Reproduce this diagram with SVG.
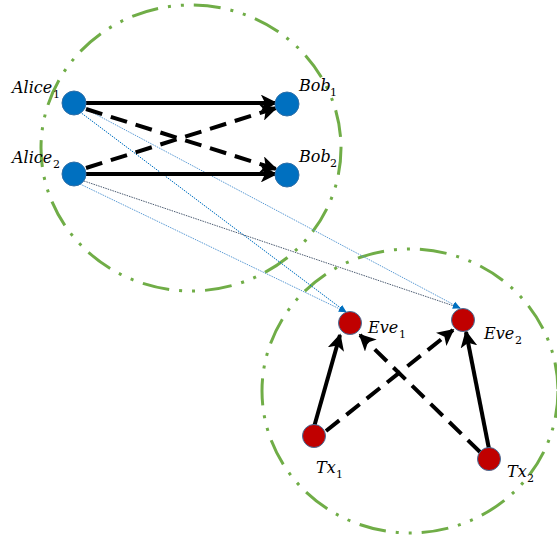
<svg xmlns="http://www.w3.org/2000/svg" width="557" height="541" viewBox="0 0 557 541">
<style>
.zone{fill:none;stroke:#70AD47;stroke-width:3;stroke-dasharray:27 10 3 10 3 10}
.alice{fill:#0070C0;stroke:#2F6FA8;stroke-width:1}
.eve{fill:#C00000;stroke:#41719C;stroke-width:1}
.lbl{font-family:"DejaVu Serif","Liberation Serif",serif;font-style:italic;font-size:16px;fill:#000}
.sub{font-family:"DejaVu Serif","Liberation Serif",serif;font-size:11px;fill:#000}
.main{stroke:#000;stroke-width:4;fill:none}
.dash{stroke-dasharray:17 9}
.leak{stroke:#0070C0;stroke-width:1;stroke-dasharray:1.5 1;fill:none}
.leak2{stroke:#5B9BD5;stroke-width:1;stroke-dasharray:1.5 1;fill:none}
</style>
<defs>
<marker id="ah" viewBox="0 0 10 10" refX="9" refY="5" markerWidth="4.2" markerHeight="4.2" orient="auto" markerUnits="strokeWidth">
<path d="M0,0 L10,5 L0,10 L2.5,5 Z" fill="#000"/>
</marker>
<marker id="bh" viewBox="0 0 10 10" refX="9" refY="5" markerWidth="8" markerHeight="8" orient="auto" markerUnits="strokeWidth">
<path d="M0,1 L10,5 L0,9 Z" fill="#0070C0"/>
</marker>
</defs>
<g id="zones">
<ellipse class="zone" cx="191" cy="148" rx="150" ry="143"/>
<ellipse class="zone" cx="410" cy="391" rx="148" ry="142"/>
</g>
<g id="connectors">
<line class="leak" x1="80" y1="112" x2="346" y2="312" marker-end="url(#bh)"/>
<line class="leak2" x1="84" y1="108" x2="460" y2="308" marker-end="url(#bh)"/>
<line class="leak2" x1="80" y1="184" x2="346" y2="312" marker-end="url(#bh)"/>
<line class="leak" x1="84" y1="181" x2="460" y2="308" marker-end="url(#bh)" style="stroke:#4A5A70"/>
<line class="main" x1="86" y1="103" x2="276" y2="103" marker-end="url(#ah)"/>
<line class="main" x1="86" y1="174" x2="276" y2="174" marker-end="url(#ah)"/>
<line class="main dash" x1="86" y1="109" x2="276" y2="169" marker-end="url(#ah)"/>
<line class="main dash" x1="86" y1="168" x2="276" y2="108" marker-end="url(#ah)"/>
<line class="main" x1="314" y1="427" x2="340" y2="335" marker-end="url(#ah)"/>
<line class="main" x1="489" y1="449" x2="466" y2="332" marker-end="url(#ah)"/>
<line class="main dash" x1="326" y1="431" x2="453" y2="330" marker-end="url(#ah)"/>
<line class="main dash" x1="480" y1="452" x2="360" y2="335" marker-end="url(#ah)"/>
</g>
<g id="alice1"><circle class="alice" cx="74" cy="103" r="12"/><text class="lbl" x="12" y="93">Alice</text><text class="sub" x="53" y="98">1</text></g>
<g id="bob1"><circle class="alice" cx="287" cy="104" r="12"/><text class="lbl" x="299" y="91">Bob</text><text class="sub" x="330" y="96">1</text></g>
<g id="alice2"><circle class="alice" cx="74" cy="174" r="12"/><text class="lbl" x="12" y="163">Alice</text><text class="sub" x="53" y="168">2</text></g>
<g id="bob2"><circle class="alice" cx="287" cy="175" r="12"/><text class="lbl" x="299" y="162">Bob</text><text class="sub" x="330" y="167">2</text></g>
<g id="eve1"><circle class="eve" cx="350" cy="323" r="11.5"/><text class="lbl" x="368" y="333">Eve</text><text class="sub" x="399" y="338">1</text></g>
<g id="eve2"><circle class="eve" cx="463" cy="320" r="11.5"/><text class="lbl" x="484" y="339">Eve</text><text class="sub" x="515" y="344">2</text></g>
<g id="tx1"><circle class="eve" cx="314" cy="436" r="11.5"/><text class="lbl" x="316" y="473">Tx</text><text class="sub" x="336" y="478">1</text></g>
<g id="tx2"><circle class="eve" cx="489" cy="459" r="11.5"/><text class="lbl" x="507" y="477">Tx</text><text class="sub" x="527" y="482">2</text></g>
</svg>
